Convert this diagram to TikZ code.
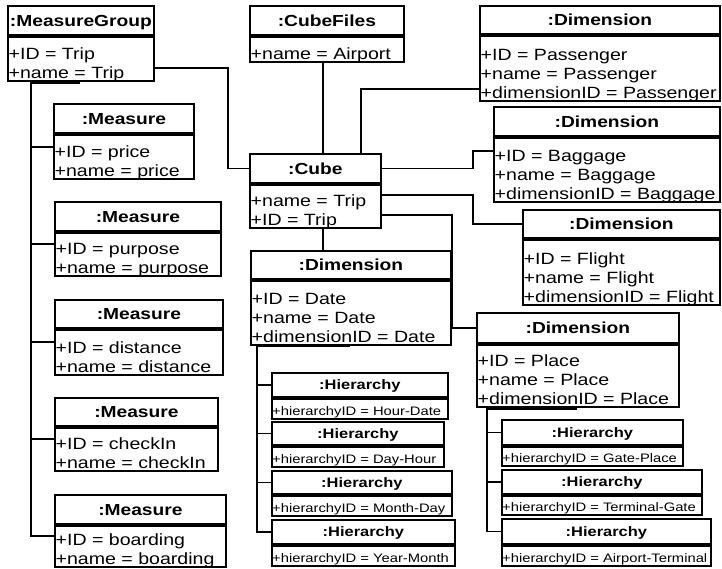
\documentclass[tikz,border=0pt]{standalone}
\usepackage{fontspec}
\setmainfont{Liberation Sans}[FakeStretch=1.2]
\usetikzlibrary{calc}
\tikzset{
  box/.style={draw, line width=1.8pt, inner sep=0pt, anchor=north west},
  hdr/.style={box, font=\fontsize{16}{19}\selectfont\bfseries, text height=11.5pt, text depth=0pt},
  hhdr/.style={box, font=\fontsize{13.7}{16}\selectfont\bfseries, text height=9.8pt, text depth=0pt},
  bdy/.style={box},
  attrtext/.style={inner sep=0pt, anchor=base west, font=\fontsize{16.3}{19}\selectfont},
  hattr/.style={inner sep=0pt, anchor=base west, font=\fontsize{12.3}{15}\selectfont},
  conn/.style={line width=1.8pt},
}
% name, x, top, width, header height, body height, header text
\newcommand\obj[7]{%
  \node[hdr, minimum width=#4pt, minimum height=#5pt] (#1) at (#2,#3) {#7};
  \node[bdy, minimum width=#4pt, minimum height=#6pt] (#1b) at (#1.south west) {};}
% name, x, top, width, header height, body height, attribute
\newcommand\hobj[7]{%
  \node[hhdr, minimum width=#4pt, minimum height=#5pt] (#1) at (#2,#3) {:Hierarchy};
  \node[bdy, minimum width=#4pt, minimum height=#6pt] (#1b) at (#1.south west) {};
  \node[hattr] (#1t) at ([xshift=1pt,yshift=4pt]#1b.south west) {#7};}
% node name, box name, raise, text
\newcommand\attr[4]{\node[attrtext] (#1) at ([xshift=1.5pt,yshift=#3pt]#2b.south west) {#4};}
\begin{document}
\begin{tikzpicture}[x=1pt,y=-1pt]
\fill[white] (0,0) rectangle (722,568);
\useasboundingbox (0,0) rectangle (722,568);

% boxes
\obj{mg}{7}{5}{146}{29}{44}{:MeasureGroup}
\attr{mg1}{mg}{22}{+ID = Trip}
\attr{mg2}{mg}{3}{+name = Trip}

\obj{cf}{249}{5}{154}{29}{25}{:CubeFiles}
\attr{cf1}{cf}{3}{+name = Airport}

\obj{pas}{479}{5}{240}{28}{65}{:Dimension}
\attr{pas1}{pas}{41}{+ID = Passenger}
\attr{pas2}{pas}{22}{+name = Passenger}
\attr{pas3}{pas}{3}{+dimensionID = Passenger}

\obj{bag}{493}{106}{226}{29}{64}{:Dimension}
\attr{bag1}{bag}{41}{+ID = Baggage}
\attr{bag2}{bag}{22}{+name = Baggage}
\attr{bag3}{bag}{3}{+dimensionID = Baggage}

\obj{fli}{522}{209}{197}{28}{65}{:Dimension}
\attr{fli1}{fli}{41}{+ID = Flight}
\attr{fli2}{fli}{22}{+name = Flight}
\attr{fli3}{fli}{3}{+dimensionID = Flight}

\obj{cube}{249}{153}{131}{29}{43}{:Cube}
\attr{cube1}{cube}{22}{+name = Trip}
\attr{cube2}{cube}{3}{+ID = Trip}

\obj{date}{250}{250}{200}{28}{64}{:Dimension}
\attr{date1}{date}{41}{+ID = Date}
\attr{date2}{date}{22}{+name = Date}
\attr{date3}{date}{3}{+dimensionID = Date}

\obj{place}{476}{312}{202}{30}{62}{:Dimension}
\attr{place1}{place}{41}{+ID = Place}
\attr{place2}{place}{22}{+name = Place}
\attr{place3}{place}{3}{+dimensionID = Place}

\obj{ma}{53}{103}{140}{29}{44}{:Measure}
\attr{ma1}{ma}{22}{+ID = price}
\attr{ma2}{ma}{3}{+name = price}

\obj{mb}{54}{201}{166}{29}{43}{:Measure}
\attr{mb1}{mb}{22}{+ID = purpose}
\attr{mb2}{mb}{3}{+name = purpose}

\obj{mc}{54}{299}{168}{28}{45}{:Measure}
\attr{mc1}{mc}{22}{+ID = distance}
\attr{mc2}{mc}{3}{+name = distance}

\obj{md}{54}{397}{163}{28}{43}{:Measure}
\attr{md1}{md}{22}{+ID = checkIn}
\attr{md2}{md}{3}{+name = checkIn}

\obj{me}{54}{494}{171}{29}{41}{:Measure}
\attr{me1}{me}{22}{+ID = boarding}
\attr{me2}{me}{3}{+name = boarding}

\hobj{ha}{271}{372}{176}{24}{20}{+hierarchyID = Hour-Date}
\hobj{hb}{271}{421}{172}{23}{20}{+hierarchyID = Day-Hour}
\hobj{hc}{271}{470}{180}{23}{20}{+hierarchyID = Month-Day}
\hobj{hd}{271}{519}{183}{24}{20}{+hierarchyID = Year-Month}

\hobj{pa}{501}{419}{181}{25}{19}{+hierarchyID = Gate-Place}
\hobj{pb}{501}{469}{200}{24}{19}{+hierarchyID = Terminal-Gate}
\hobj{pc}{501}{518}{209}{25}{20}{+hierarchyID = Airport-Terminal}

% connectors
\draw[conn] (mgb.east |- 0,68) -| ($(cube.west)+(-21,0)$) -- (cube.west);
\draw[conn] (cfb.south -| 323,0) -- (cube.north -| 323,0);
\draw[conn] (cubeb.south -| 323,0) -- (date.north -| 323,0);
\draw[conn] (cube.north -| 361,0) |- ([yshift=-54pt]pasb.north west);
\draw[conn] (cube.east) -| ($([yshift=-14pt]bagb.north west)+(-20,0)$) -- ([yshift=-14pt]bagb.north west);
\draw[conn] ([yshift=-11pt]cubeb.north east) -| ($(fli.west)+(-49,0)$) -- (fli.west);
\draw[conn] ([yshift=-31pt]cubeb.north east) -| ($(place.west)+(-24,0)$) -- (place.west);

% measure tree
\draw[conn] ([yshift=-1pt]mgb.south -| 80,0) -- ([yshift=-1pt]mgb.south -| 31,0) |- ([yshift=-11pt]meb.north west);
\draw[conn] ([yshift=-13pt]mab.north west) -- ++(-22,0);
\draw[conn] ([yshift=-12pt]mbb.north west) -- ++(-23,0);
\draw[conn] ([yshift=-13pt]mcb.north west) -- ++(-23,0);
\draw[conn] ([yshift=-12pt]mdb.north west) -- ++(-23,0);

% date tree
\draw[conn] (dateb.south -| 350,0) -- (dateb.south -| 257,0) |- (hd.west);
\draw[conn] (ha.west -| 257,0) -- (ha.west);
\draw[conn] (hb.west -| 257,0) -- (hb.west);
\draw[conn] (hc.west -| 257,0) -- (hc.west);

% place tree
\draw[conn] ([yshift=-1pt]placeb.south -| 577,0) -- ([yshift=-1pt]placeb.south -| 487,0) |- (pc.west);
\draw[conn] (pa.west -| 487,0) -- (pa.west);
\draw[conn] (pb.west -| 487,0) -- (pb.west);
\end{tikzpicture}
\end{document}
